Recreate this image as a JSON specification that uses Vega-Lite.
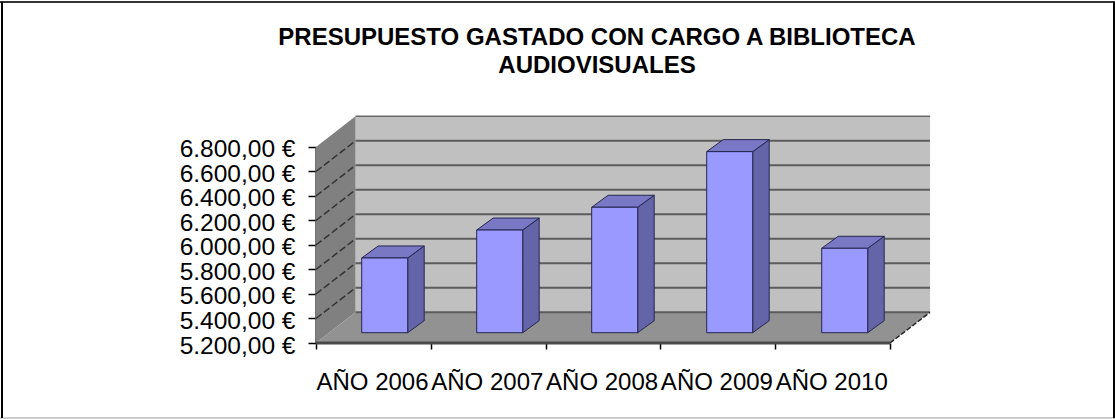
{
"$schema":"https://vega.github.io/schema/vega-lite/v6.json",
"width":614,"height":228,
"autosize":"none",
"padding":{"left":316,"top":115,"right":185,"bottom":76},
"background":"white",
"title":{"text":["PRESUPUESTO GASTADO  CON CARGO A BIBLIOTECA","AUDIOVISUALES"],"anchor":"middle","frame":"group","dx":-26,"offset":-77,"font":"Liberation Sans","fontSize":24,"fontWeight":"bold","color":"black","lineHeight":28},
"config":{"view":{"stroke":null},"axis":{"labelOverlap":false,"labelSeparation":0}},
"datasets":{
"bars":[
{"idx":0,"year":"AÑO 2006","value":5810},
{"idx":1,"year":"AÑO 2007","value":6038},
{"idx":2,"year":"AÑO 2008","value":6224},
{"idx":3,"year":"AÑO 2009","value":6678},
{"idx":4,"year":"AÑO 2010","value":5889}],
"ticks":[{"v":5200},{"v":5400},{"v":5600},{"v":5800},{"v":6000},{"v":6200},{"v":6400},{"v":6600},{"v":6800}],
"one":[{"k":0},{"k":1}]
},
"layer":[
{"data":{"name":"ticks"},"mark":{"type":"rule","color":"#444444","strokeWidth":1.5},
 "transform":[{"filter":"datum.v==5200"},{"calculate":"6800","as":"top"}],
 "encoding":{
 "x":{"datum":0,"type":"quantitative","scale":{"domain":[0,614],"nice":false,"zero":false},
  "axis":{"values":[0,114.8,229.6,344.4,459.2,574],"tickCount":6,"title":null,"grid":false,"domain":false,"tickColor":"black","tickSize":6,"tickWidth":1.5,"labelExpr":"['AÑO 2006','AÑO 2007','AÑO 2008','AÑO 2009','AÑO 2010',''][round(datum.value/114.8)]","labelOffset":56,"labelFont":"Liberation Sans","labelFontSize":24,"labelColor":"black","labelPadding":21,"labelOverlap":false,"labelBound":false,"labelFlush":false}},
 "y":{"field":"v","type":"quantitative","scale":{"domain":[5200,7061],"nice":false,"zero":false},
  "axis":{"values":[5200,5400,5600,5800,6000,6200,6400,6600,6800],"tickCount":9,"title":null,"grid":false,"domain":false,"tickColor":"black","tickSize":8,"tickWidth":1.5,"labelExpr":"floor(datum.value/1000)+'.'+format(datum.value%1000,'03d')+',00 €'","labelFont":"Liberation Sans","labelFontSize":24.5,"labelColor":"black","labelPadding":13,"labelOffset":3,"labelOverlap":false,"labelBound":false,"labelFlush":false}},
 "y2":{"field":"top"}}},
{"mark":{"type":"rect","color":"#c0c0c0"},"data":{"name":"one"},"transform":[{"filter":"datum.k==0"}],
 "encoding":{"x":{"datum":39.5,"type":"quantitative","scale":{"domain":[0,614],"nice":false,"zero":false}},"x2":{"datum":614},
 "y":{"datum":5450,"type":"quantitative","scale":{"domain":[5200,7061],"nice":false,"zero":false}},"y2":{"datum":7050}}},
{"data":{"name":"one"},"mark":{"type":"area","orient":"vertical","color":"#808080"},
 "transform":[{"calculate":"datum.k*39.5","as":"px"},{"calculate":"5200+datum.k*250","as":"a"},{"calculate":"6800+datum.k*250","as":"b"}],
 "encoding":{"x":{"field":"px","type":"quantitative","scale":{"domain":[0,614],"nice":false,"zero":false}},
 "y":{"field":"a","type":"quantitative","stack":null,"scale":{"domain":[5200,7061],"nice":false,"zero":false}},"y2":{"field":"b"}}},
{"data":{"name":"one"},"mark":{"type":"area","orient":"horizontal","color":"#929292"},
 "transform":[{"calculate":"datum.k*39.5","as":"p1"},{"calculate":"574+datum.k*40","as":"p2"},{"calculate":"5200+datum.k*250","as":"a"}],
 "encoding":{"x":{"field":"p1","type":"quantitative","stack":null,"scale":{"domain":[0,614],"nice":false,"zero":false}},"x2":{"field":"p2"},
 "y":{"field":"a","type":"quantitative","scale":{"domain":[5200,7061],"nice":false,"zero":false}}}},
{"data":{"name":"ticks"},"mark":{"type":"rule","color":"#5c5c5c","strokeWidth":2},
 "transform":[{"filter":"datum.v<6800"},{"calculate":"datum.v+250","as":"g"}],
 "encoding":{"x":{"datum":39.5,"type":"quantitative","scale":{"domain":[0,614],"nice":false,"zero":false}},"x2":{"datum":614},
 "y":{"field":"g","type":"quantitative","scale":{"domain":[5200,7061],"nice":false,"zero":false}}}},
{"data":{"name":"ticks"},"mark":{"type":"rule","color":"#6a6a6a","strokeWidth":1.5},
 "transform":[{"filter":"datum.v==6800"},{"calculate":"datum.v+250","as":"g"}],
 "encoding":{"x":{"datum":39.5,"type":"quantitative","scale":{"domain":[0,614],"nice":false,"zero":false}},"x2":{"datum":614},
 "y":{"field":"g","type":"quantitative","scale":{"domain":[5200,7061],"nice":false,"zero":false}}}},
{"data":{"name":"ticks"},"mark":{"type":"rule","color":"#333333","strokeWidth":1.5,"strokeDash":[7,3]},
 "transform":[{"filter":"datum.v>5200 && datum.v<6800"},{"calculate":"datum.v+250","as":"g"}],
 "encoding":{"x":{"datum":0,"type":"quantitative","scale":{"domain":[0,614],"nice":false,"zero":false}},"x2":{"datum":39.5},
 "y":{"field":"v","type":"quantitative","scale":{"domain":[5200,7061],"nice":false,"zero":false}},"y2":{"field":"g"}}},
{"data":{"name":"ticks"},"mark":{"type":"rule","color":"#222222","strokeWidth":1.5,"strokeDash":[5,2]},
 "transform":[{"filter":"datum.v==5200"},{"calculate":"5450","as":"g"}],
 "encoding":{"x":{"datum":574,"type":"quantitative","scale":{"domain":[0,614],"nice":false,"zero":false}},"x2":{"datum":614},
 "y":{"field":"v","type":"quantitative","scale":{"domain":[5200,7061],"nice":false,"zero":false}},"y2":{"field":"g"}}},
{"data":{"name":"ticks"},"mark":{"type":"rule","color":"#4a4a4a","strokeWidth":3},
 "transform":[{"filter":"datum.v==5200"}],
 "encoding":{"x":{"datum":0,"type":"quantitative","scale":{"domain":[0,614],"nice":false,"zero":false}},"x2":{"datum":574},
 "y":{"field":"v","type":"quantitative","scale":{"domain":[5200,7061],"nice":false,"zero":false}}}},
{"data":{"name":"bars"},"mark":{"type":"area","orient":"vertical","color":"#6464a8","stroke":"#26264f","strokeWidth":1},
 "transform":[{"calculate":"[0,1]","as":"k"},{"flatten":["k"]},{"calculate":"45.7+datum.idx*115+46+datum.k*16.5","as":"px"},{"calculate":"datum.value+84+datum.k*98","as":"a"},{"calculate":"5284+datum.k*98","as":"b"}],
 "encoding":{"x":{"field":"px","type":"quantitative","scale":{"domain":[0,614],"nice":false,"zero":false}},
 "y":{"field":"a","type":"quantitative","stack":null,"scale":{"domain":[5200,7061],"nice":false,"zero":false}},"y2":{"field":"b"},"detail":{"field":"idx"}}},
{"data":{"name":"bars"},"mark":{"type":"area","orient":"horizontal","color":"#7878c4","stroke":"#26264f","strokeWidth":1},
 "transform":[{"calculate":"[0,1]","as":"k"},{"flatten":["k"]},{"calculate":"45.7+datum.idx*115+datum.k*16.5","as":"p1"},{"calculate":"datum.p1+46","as":"p2"},{"calculate":"datum.value+84+datum.k*98","as":"a"}],
 "encoding":{"x":{"field":"p1","type":"quantitative","stack":null,"scale":{"domain":[0,614],"nice":false,"zero":false}},"x2":{"field":"p2"},
 "y":{"field":"a","type":"quantitative","scale":{"domain":[5200,7061],"nice":false,"zero":false}},"detail":{"field":"idx"}}},
{"data":{"name":"bars"},"mark":{"type":"rect","color":"#9999ff","stroke":"#26264f","strokeWidth":1},
 "transform":[{"calculate":"45.7+datum.idx*115","as":"p1"},{"calculate":"datum.p1+46","as":"p2"},{"calculate":"datum.value+84","as":"a"},{"calculate":"5284","as":"b"}],
 "encoding":{"x":{"field":"p1","type":"quantitative","scale":{"domain":[0,614],"nice":false,"zero":false}},"x2":{"field":"p2"},
 "y":{"field":"a","type":"quantitative","scale":{"domain":[5200,7061],"nice":false,"zero":false}},"y2":{"field":"b"}}},
{"data":{"name":"one"},"mark":{"type":"rule","color":"#333333","strokeWidth":2},"transform":[{"filter":"datum.k==0"}],
 "encoding":{"x":{"datum":-316,"type":"quantitative","scale":{"domain":[0,614],"nice":false,"zero":false}},"x2":{"datum":799},
 "y":{"datum":7984,"type":"quantitative","scale":{"domain":[5200,7061],"nice":false,"zero":false}}}},
{"data":{"name":"one"},"mark":{"type":"rule","color":"#cccccc","strokeWidth":2},"transform":[{"filter":"datum.k==0"}],
 "encoding":{"x":{"datum":-316,"type":"quantitative","scale":{"domain":[0,614],"nice":false,"zero":false}},"x2":{"datum":799},
 "y":{"datum":4588,"type":"quantitative","scale":{"domain":[5200,7061],"nice":false,"zero":false}}}},
{"data":{"name":"one"},"mark":{"type":"rule","color":"black","strokeWidth":2},"transform":[{"filter":"datum.k==0"}],
 "encoding":{"x":{"datum":-314,"type":"quantitative","scale":{"domain":[0,614],"nice":false,"zero":false}},
 "y":{"datum":7984,"type":"quantitative","scale":{"domain":[5200,7061],"nice":false,"zero":false}},"y2":{"datum":4588}}},
{"data":{"name":"one"},"mark":{"type":"rule","color":"black","strokeWidth":2},"transform":[{"filter":"datum.k==0"}],
 "encoding":{"x":{"datum":798,"type":"quantitative","scale":{"domain":[0,614],"nice":false,"zero":false}},
 "y":{"datum":7984,"type":"quantitative","scale":{"domain":[5200,7061],"nice":false,"zero":false}},"y2":{"datum":4588}}}
]
}
